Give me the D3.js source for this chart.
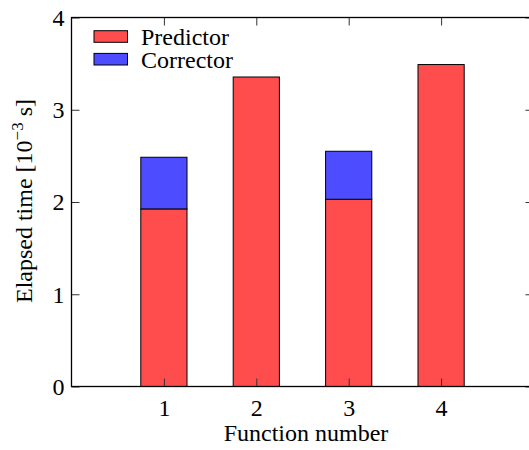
<!DOCTYPE html>
<html>
<head>
<meta charset="utf-8">
<script src="https://cdn.jsdelivr.net/npm/d3@7"></script>
</head>
<body style="margin:0; background:#fff">
<div id="graph"></div>
<script>
    const functions = [1, 2, 3, 4];
    const predictor = [1.925, 3.355, 2.03, 3.49];
    const corrector = [0.56, 0, 0.52, 0];
    const yTicks = [0, 1, 2, 3, 4];
    const seriesNames = ['Predictor', 'Corrector'];
    const seriesColors = ['#ff4d4d', '#4d4dff'];

    const w = 529;
    const h = 450;
    const padL = 71.5, padR = 533.5, padT = 17.5, padB = 386.5;
    const fontSize = 24;
    const serif = '"Liberation Serif"';

    const svg = d3.select('#graph')
        .append('svg')
        .attr('width', w)
        .attr('height', h);

    const xScale = d3.scaleLinear()
        .domain([0, 5])
        .range([padL, padR]);

    const yScale = d3.scaleLinear()
        .domain([0, 4])
        .range([padB, padT]);

    const barW = xScale(0.5) - xScale(0);

    // stacked bars
    const rows = functions.map((f, i) => ({ f: f, p: predictor[i], c: corrector[i] }));

    svg.selectAll('rect.pred')
        .data(rows)
        .enter()
        .append('rect')
        .attr('class', 'pred')
        .attr('x', (d) => xScale(d.f) - barW / 2)
        .attr('y', (d) => yScale(d.p))
        .attr('width', barW)
        .attr('height', (d) => yScale(0) - yScale(d.p))
        .attr('fill', seriesColors[0])
        .attr('stroke', '#000')
        .attr('stroke-width', 1);

    svg.selectAll('rect.corr')
        .data(rows.filter((d) => d.c > 0))
        .enter()
        .append('rect')
        .attr('class', 'corr')
        .attr('x', (d) => xScale(d.f) - barW / 2)
        .attr('y', (d) => yScale(d.p + d.c))
        .attr('width', barW)
        .attr('height', (d) => yScale(d.p) - yScale(d.p + d.c))
        .attr('fill', seriesColors[1])
        .attr('stroke', '#000')
        .attr('stroke-width', 1);

    // axes with inward ticks
    const yAxis = d3.axisLeft(yScale)
        .tickValues(yTicks)
        .tickSizeInner(-8)
        .tickSizeOuter(0)
        .tickPadding(7)
        .tickFormat(d3.format('d'));

    const gy = svg.append('g')
        .attr('transform', 'translate(' + padL + ',0)')
        .call(yAxis);
    gy.selectAll('text').attr('dy', '0.33em');

    svg.append('g')
        .attr('transform', 'translate(' + padR + ',0)')
        .call(d3.axisRight(yScale).tickValues(yTicks).tickSizeInner(-8).tickSizeOuter(0).tickFormat(''));

    const gx = svg.append('g')
        .attr('transform', 'translate(0,' + padB + ')')
        .call(d3.axisBottom(xScale).tickValues(functions).tickSizeInner(-8).tickSizeOuter(0).tickFormat(d3.format('d')));
    gx.selectAll('text').attr('y', 29).attr('dy', 0);

    svg.append('g')
        .attr('transform', 'translate(0,' + padT + ')')
        .call(d3.axisTop(xScale).tickValues(functions).tickSizeInner(-8).tickSizeOuter(0).tickFormat(''));

    svg.selectAll('.tick line').attr('stroke', '#333');
    svg.selectAll('.domain').remove();
    svg.selectAll('.tick text')
        .attr('font-family', serif)
        .attr('font-size', fontSize)
        .attr('fill', '#000');

    // plot border
    svg.append('rect')
        .attr('x', padL)
        .attr('y', padT)
        .attr('width', padR - padL)
        .attr('height', padB - padT)
        .attr('fill', 'none')
        .attr('stroke', '#000')
        .attr('stroke-width', 1.3);

    // axis titles
    svg.append('text')
        .attr('x', 306)
        .attr('y', 441)
        .attr('text-anchor', 'middle')
        .attr('font-family', serif)
        .attr('font-size', fontSize)
        .text('Function number');

    const ylab = svg.append('text')
        .attr('transform', 'translate(32,' + ((padT + padB) / 2 - 1) + ') rotate(-90)')
        .attr('text-anchor', 'middle')
        .attr('font-family', serif)
        .attr('font-size', fontSize);
    ylab.append('tspan').text('Elapsed time [10');
    ylab.append('tspan').attr('dy', -9).attr('font-size', 17).text('\u22123');
    ylab.append('tspan').attr('dy', 9).text(' s]');

    // legend
    const legend = svg.selectAll('.legend')
        .data(seriesNames)
        .enter().append('g')
        .attr('class', 'legend')
        .attr('transform', (d, i) => 'translate(0,' + (i * 22.7) + ')');

    legend.append('rect')
        .attr('x', 94)
        .attr('y', 30.7)
        .attr('width', 33.5)
        .attr('height', 11.6)
        .attr('fill', (d, i) => seriesColors[i])
        .attr('stroke', '#000')
        .attr('stroke-width', 1);

    legend.append('text')
        .attr('x', 141)
        .attr('y', 45)
        .attr('font-family', serif)
        .attr('font-size', fontSize)
        .text((d) => d);
</script>
</body>
</html>
